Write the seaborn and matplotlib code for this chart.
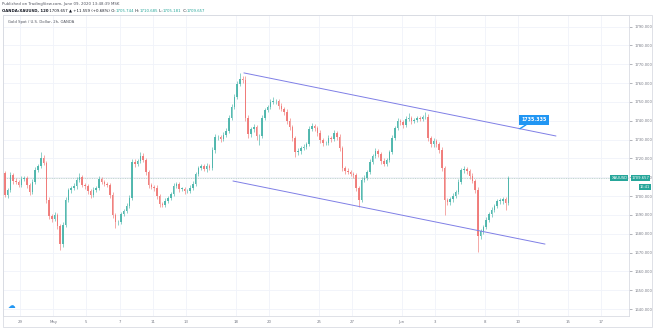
import numpy as np
import pandas as pd
import matplotlib
matplotlib.use("Agg")
import matplotlib.pyplot as plt
import seaborn as sns
from matplotlib.transforms import blended_transform_factory, offset_copy
from matplotlib.patches import Rectangle

# ---------------- data ----------------
first_open = 1712.0
close = [
    1700.6, 1703.2, 1711.2, 1708.0, 1707.5, 1705.9, 1709.0, 1709.6, 1705.9, 1702.2,
    1707.5, 1713.8, 1716.0, 1720.2, 1717.6, 1697.9, 1689.4, 1687.8, 1689.9, 1684.1,
    1674.6, 1684.6, 1697.9, 1703.2, 1704.3, 1705.3, 1708.5, 1710.1, 1705.9, 1705.3,
    1702.7, 1700.6, 1703.2, 1704.3, 1709.0, 1707.5, 1706.4, 1705.9, 1700.6, 1689.9,
    1686.2, 1686.2, 1690.5, 1692.1, 1694.7, 1699.0, 1718.1, 1717.0, 1718.6, 1721.3,
    1719.2, 1712.8, 1705.9, 1704.8, 1704.3, 1700.0, 1695.8, 1695.3, 1697.4, 1699.0,
    1701.1, 1705.3, 1706.4, 1703.8, 1703.8, 1702.7, 1702.7, 1704.3, 1706.4, 1711.7,
    1714.9, 1716.0, 1714.4, 1716.0, 1714.9, 1724.5, 1731.3, 1731.3, 1730.2, 1732.4,
    1734.6, 1741.5, 1747.3, 1752.6, 1759.5, 1762.2, 1761.6, 1741.5, 1733.0, 1735.6,
    1736.7, 1731.9, 1731.9, 1741.5, 1745.7, 1747.3, 1749.9, 1750.4, 1750.4, 1747.8,
    1746.2, 1744.6, 1739.8, 1736.7, 1730.8, 1723.4, 1723.9, 1725.5, 1726.0, 1727.6,
    1735.6, 1737.2, 1736.1, 1733.5, 1729.8, 1728.1, 1728.1, 1730.8, 1730.2, 1733.5,
    1731.3, 1725.5, 1714.9, 1713.3, 1712.8, 1711.7, 1711.2, 1704.3, 1697.9, 1708.5,
    1709.6, 1712.8, 1718.1, 1721.3, 1723.9, 1722.3, 1718.6, 1717.0, 1719.2, 1723.4,
    1730.8, 1736.1, 1739.8, 1739.3, 1737.7, 1740.9, 1741.5, 1739.8, 1740.4, 1741.5,
    1740.9, 1742.0, 1742.0, 1730.8, 1727.6, 1729.2, 1727.6, 1724.5, 1714.9, 1697.9,
    1696.8, 1698.4, 1700.0, 1702.2, 1707.5, 1713.8, 1714.4, 1713.3, 1710.7, 1708.0,
    1703.2, 1678.8, 1681.4, 1683.6, 1687.3, 1690.5, 1692.6, 1694.7, 1697.4, 1697.4,
    1698.4, 1696.3, 1709.657,
]
upper_wick = [
    1.5, 1.2, 1.8, 1.0, 1.4, 0.8, 1.6, 1.2, 0.9, 1.1,
    1.3, 1.5, 1.0, 3.2, 1.4, 1.2, 1.6, 1.0, 1.8, 1.1,
    1.2, 1.5, 1.8, 1.3, 1.0, 1.4, 1.6, 1.9, 1.1, 1.0,
    1.2, 0.9, 1.5, 1.1, 1.6, 1.3, 0.8, 1.0, 1.2, 1.4,
    1.1, 1.3, 1.2, 1.0, 1.5, 1.4, 1.8, 1.6, 1.2, 2.1,
    1.4, 1.1, 1.3, 1.0, 1.2, 1.5, 0.9, 1.2, 1.4, 1.1,
    1.2, 1.6, 1.0, 1.3, 1.1, 0.9, 1.2, 1.4, 1.5, 1.1,
    1.3, 1.0, 1.2, 1.4, 1.1, 1.5, 1.8, 1.2, 1.1, 1.4,
    1.6, 1.5, 1.8, 1.7, 1.4, 3.2, 1.6, 1.9, 1.5, 1.2,
    1.4, 1.1, 1.0, 1.5, 1.3, 1.2, 1.4, 2.2, 1.3, 1.1,
    1.5, 1.2, 1.4, 1.6, 1.3, 1.1, 1.4, 1.2, 1.5, 1.3,
    1.6, 1.4, 1.2, 1.1, 1.5, 1.0, 1.3, 1.4, 1.2, 1.6,
    1.3, 1.5, 1.2, 1.0, 1.4, 1.2, 1.1, 1.3, 1.2, 1.5,
    1.4, 1.2, 1.6, 1.3, 1.8, 1.1, 1.2, 1.4, 1.0, 1.3,
    1.5, 1.2, 1.6, 1.3, 1.1, 1.4, 2.6, 1.2, 1.3, 1.1,
    1.2, 1.0, 2.6, 1.5, 1.3, 1.6, 1.2, 1.1, 1.4, 1.2,
    1.3, 1.1, 1.4, 1.2, 1.5, 1.3, 1.6, 1.1, 1.2, 1.4,
    1.1, 1.6, 1.3, 1.2, 1.4, 1.1, 1.5, 1.2, 1.3, 1.4,
    1.2, 1.0, 1.0,
]
lower_wick = [
    1.2, 1.5, 1.0, 1.4, 1.1, 1.3, 0.9, 1.2, 1.5, 1.6,
    1.1, 1.2, 1.0, 1.3, 1.1, 1.8, 1.6, 1.4, 1.2, 1.5,
    3.2, 1.5, 1.2, 1.0, 1.4, 1.1, 1.3, 1.0, 1.2, 1.5,
    1.6, 1.8, 1.2, 1.1, 1.0, 1.3, 1.2, 1.1, 1.6, 1.8,
    3.2, 1.5, 1.3, 1.2, 1.1, 1.0, 1.2, 1.4, 1.1, 1.0,
    1.3, 1.5, 1.4, 1.2, 1.6, 1.5, 1.8, 1.3, 1.1, 1.2,
    1.0, 1.2, 1.1, 1.4, 1.3, 1.5, 1.2, 1.1, 1.0, 1.2,
    1.1, 1.3, 1.2, 1.4, 1.1, 1.2, 1.5, 1.3, 1.6, 1.2,
    1.1, 1.0, 1.2, 1.1, 1.3, 1.2, 1.5, 1.8, 2.0, 1.4,
    1.6, 2.0, 5.0, 1.3, 1.2, 1.1, 1.0, 1.2, 1.3, 1.4,
    1.2, 1.5, 1.6, 1.4, 1.8, 2.7, 1.5, 1.3, 1.2, 1.1,
    1.2, 1.3, 1.4, 1.5, 1.6, 1.3, 1.2, 1.1, 1.4, 1.2,
    1.3, 1.6, 1.8, 1.4, 1.2, 1.3, 1.5, 1.6, 3.7, 1.2,
    1.1, 1.2, 1.0, 1.3, 1.2, 1.4, 1.5, 1.3, 1.2, 1.1,
    1.0, 1.2, 1.1, 1.3, 1.4, 1.2, 1.1, 1.3, 1.2, 1.1,
    1.3, 1.2, 1.1, 1.6, 1.4, 1.3, 1.5, 1.4, 1.8, 8.0,
    1.5, 1.6, 1.3, 1.2, 1.1, 1.2, 1.3, 1.4, 1.5, 1.3,
    1.6, 8.5, 1.8, 1.5, 1.3, 1.2, 1.4, 1.3, 1.2, 1.5,
    1.4, 3.7, 1.2,
]
bars_per_day = 6
start_day = -1.0

day_ticks = [0, 2, 4, 6, 8, 10, 13, 15, 18, 20, 23, 25, 28, 30, 33, 35]
day_labels = ["29", "May", "5", "7", "11", "13", "18", "20", "25", "27",
              "Jun", "3", "8", "10", "15", "17"]
price_ticks = list(range(1640, 1791, 10))

upper_line_days = [13.49, 32.29]
upper_line_prices = [1765.4, 1731.9]
lower_line_days = [12.83, 31.63]
lower_line_prices = [1708.0, 1674.5]
callout_day = 30.12
callout_text = "1735.335"

symbol = "XAUUSD"
last_price = 1709.657
countdown = "16:41"
header_published = "Published on TradingView.com, June 09, 2020 13:48:39 MSK"
header_symbol = "OANDA:XAUUSD, 120"
header_change = " 1709.657 \u25b2 +11.559 (+0.68%)"
header_ohlc = [("O:", "1705.744"), ("H:", "1710.685"), ("L:", "1705.181"), ("C:", "1709.657")]
legend_text = "Gold Spot / U.S. Dollar, 2h, OANDA"

# ---------------- styling ----------------
sns.set_style("white")
plt.rcParams["font.family"] = ["DejaVu Sans"]

W, H = 654, 328
UP, DOWN = "#26a69a", "#ef5350"
UP_C, DOWN_C = "#4db6ac", "#f07a78"
TXT = "#787b86"
GRID = "#f0f3fa"

fig = plt.figure(figsize=(W / 100, H / 100), dpi=100)
fig.patch.set_facecolor("white")

def fx(px):
    return px / W

def fy(py):
    return 1 - py / H

ax_left, ax_right, ax_top, ax_bottom = 3, 629, 15, 316
ax = fig.add_axes([fx(ax_left), fy(ax_bottom), (ax_right - ax_left) / W, (ax_bottom - ax_top) / H])
ax.set_facecolor("white")

n = len(close)
opens = np.array([first_open] + close[:-1])
closes = np.array(close)
highs = np.maximum(opens, closes) + np.array(upper_wick)
lows = np.minimum(opens, closes) - np.array(lower_wick)
xs = start_day + (np.arange(n) + 0.5) / bars_per_day
cols = [UP_C if c >= o else DOWN_C for o, c in zip(opens, closes)]

df = pd.DataFrame({"day": xs, "open": opens, "close": closes, "high": highs, "low": lows})

ax.set_xlim(-1.024, 36.69)
ax.set_ylim(1636.3, 1796.16)

ax.set_yticks(price_ticks)
ax.set_xticks(day_ticks)
ax.grid(True, color=GRID, lw=0.6, zorder=0)
ax.set_axisbelow(True)

# price line
ax.axhline(last_price, color="#a9c4c0", lw=0.5, ls=(0, (1.5, 1)), zorder=1)

# candles
ax.vlines(df["day"], df["low"], df["high"], colors=cols, lw=0.5, alpha=0.9, zorder=2)
body_h = np.maximum(np.abs(df["close"] - df["open"]), 0.25)
ax.bar(df["day"], body_h, bottom=np.minimum(df["open"], df["close"]),
       width=0.55 / bars_per_day, color=cols, lw=0, alpha=0.95, zorder=3)

# channel lines
chan_col = "#7f7fe6"
sns.lineplot(x=upper_line_days, y=upper_line_prices, ax=ax, color=chan_col, lw=0.7, zorder=4)
sns.lineplot(x=lower_line_days, y=lower_line_prices, ax=ax, color=chan_col, lw=0.7, zorder=4)

call_p = float(np.interp(callout_day, upper_line_days, upper_line_prices))
ax.annotate(callout_text, xy=(callout_day, call_p), xytext=(14, 9), textcoords="offset pixels",
            ha="center", va="center", fontsize=3.4, color="white", fontweight="bold",
            bbox=dict(boxstyle="square,pad=0.55", fc="#2196f3", ec="none"),
            arrowprops=dict(arrowstyle="-", color="#2196f3", lw=1.0, shrinkA=0, shrinkB=0),
            zorder=6)

# axes ticks/labels
ax.yaxis.tick_right()
ax.set_yticklabels([f"{p:.3f}" for p in price_ticks])
ax.set_xticklabels(day_labels)
ax.tick_params(axis="y", length=2.0, width=0.4, pad=2.2, labelsize=2.7, colors=TXT, right=True, left=False)
ax.tick_params(axis="x", length=0, pad=3.2, labelsize=2.8, colors=TXT)
for s in ax.spines.values():
    s.set_color("#d9dce3")
    s.set_linewidth(0.6)

# price labels on the scale
bt = blended_transform_factory(ax.transAxes, ax.transData)
ax.text(1.004, last_price, f"{last_price:.3f}", transform=bt, ha="left", va="center",
        fontsize=2.7, color="white", clip_on=False, zorder=7,
        bbox=dict(boxstyle="square,pad=0.25", fc=UP, ec="none"))
ax.text(0.9975, last_price, symbol, transform=bt, ha="right", va="center",
        fontsize=2.7, color="white", clip_on=False, zorder=7,
        bbox=dict(boxstyle="square,pad=0.25", fc=UP, ec="none"))
cd_trans = offset_copy(bt, fig=fig, x=16, y=-9, units="dots")
ax.text(1.0, last_price, countdown, transform=cd_trans, ha="center", va="center",
        fontsize=2.6, color="white", clip_on=False, zorder=7,
        bbox=dict(boxstyle="square,pad=0.2", fc=UP, ec="none"))

# outer frame
fig.patches.append(Rectangle((fx(3), fy(327)), (652 - 3) / W, (327 - 15) / H, fill=False,
                             ec="#d9dce3", lw=0.6, transform=fig.transFigure))

# header texts
fig.text(fx(2), fy(4), header_published, fontsize=2.8, color="#50535e", va="center", ha="left")
renderer = fig.canvas.get_renderer()
xpos = fx(2)
pieces = [(header_symbol, "#131722", "bold"), (header_change, "#131722", "normal")]
for k, v in header_ohlc:
    pieces.append((" " + k, "#131722", "normal"))
    pieces.append((v, UP, "normal"))
for txt, col, wt in pieces:
    t = fig.text(xpos, fy(11), txt, fontsize=2.8, color=col, fontweight=wt, va="center", ha="left")
    bb = t.get_window_extent(renderer)
    xpos = bb.x1 / W

fig.text(fx(8), fy(22), legend_text, fontsize=2.7, color="#50535e", va="center", ha="left")
fig.text(fx(8), fy(305), "\u2601", fontsize=5.5, color="#2196f3", va="center", ha="left")

fig.savefig("out.png", dpi=100)
